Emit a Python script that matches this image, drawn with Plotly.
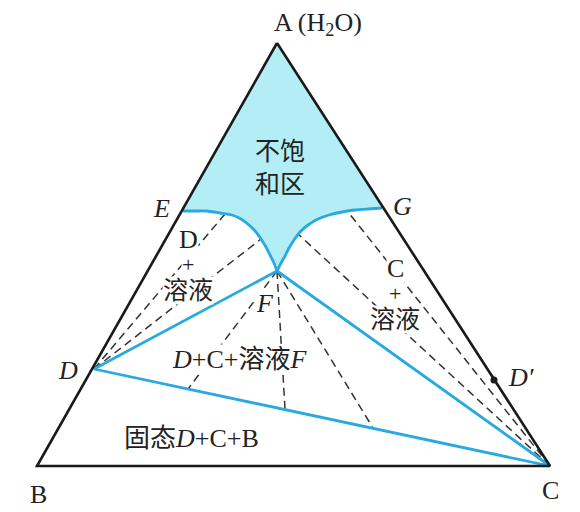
import plotly.graph_objects as go

# ---- data (figure coordinates of the phase diagram, y downward) ----
tri_x = [277, 37, 550]          # A, B, C
tri_y = [43, 466, 466]

pt_E = (183, 211)
pt_G = (382, 208)
pt_F = (277, 271)
pt_D = (94, 369)
pt_Dp = (494, 380)

curve_EF_x = [183, 195, 207, 220, 232, 241, 249, 256, 261, 266, 270, 274, 277]
curve_EF_y = [211, 211, 211, 213, 215, 219, 225, 232, 239, 247, 255, 263, 271]
curve_GF_x = [382, 368, 355, 342, 329, 318, 308, 300, 294, 289, 285, 281, 277]
curve_GF_y = [208, 209, 210, 212, 215, 219, 225, 232, 240, 248, 256, 263, 271]

# tie lines end points
tie_D_x_end = [225, 261]
tie_D_y_end = [214, 239]
tie_F_x_end = [188, 285, 373]
tie_F_y_end = [389, 409, 428]
tie_C_x_end = [348, 298]
tie_C_y_end = [212, 234]

BLUE = "#29a9e1"
CYAN = "#b3eef6"
FONT = "Liberation Serif, Noto Sans CJK SC"
FS = 26

fig = go.Figure()

# unsaturated region fill
fill_x = [tri_x[0]] + curve_GF_x + curve_EF_x[::-1] + [tri_x[0]]
fill_y = [tri_y[0]] + curve_GF_y + curve_EF_y[::-1] + [tri_y[0]]
fig.add_trace(go.Scatter(x=fill_x, y=fill_y, mode="lines", fill="toself",
                         fillcolor=CYAN, line=dict(width=0), hoverinfo="skip"))

# dashed tie lines
def dashed(x0, y0, xs, ys):
    for xe, ye in zip(xs, ys):
        fig.add_trace(go.Scatter(x=[x0, xe], y=[y0, ye], mode="lines",
                                 line=dict(color="#333333", width=1.5, dash="8px,5px"),
                                 hoverinfo="skip"))

dashed(pt_D[0], pt_D[1], tie_D_x_end, tie_D_y_end)
dashed(pt_F[0], pt_F[1], tie_F_x_end, tie_F_y_end)
dashed(tri_x[2], tri_y[2], tie_C_x_end, tie_C_y_end)

# blue lines
for cx, cy in [(curve_EF_x, curve_EF_y), (curve_GF_x, curve_GF_y)]:
    fig.add_trace(go.Scatter(x=cx, y=cy, mode="lines",
                             line=dict(color=BLUE, width=2.8, shape="spline", smoothing=0.5),
                             hoverinfo="skip"))
fig.add_trace(go.Scatter(x=[pt_F[0], pt_D[0], tri_x[2], pt_F[0]],
                         y=[pt_F[1], pt_D[1], tri_y[2], pt_F[1]], mode="lines",
                         line=dict(color=BLUE, width=2.8), hoverinfo="skip"))

# triangle outline
fig.add_trace(go.Scatter(x=tri_x + [tri_x[0]], y=tri_y + [tri_y[0]], mode="lines",
                         line=dict(color="#1a1a1a", width=2.6), hoverinfo="skip"))

# D' point
fig.add_trace(go.Scatter(x=[pt_Dp[0]], y=[pt_Dp[1]], mode="markers",
                         marker=dict(color="#1a1a1a", size=7), hoverinfo="skip"))

def label(x, y, text, size=FS, bg=None):
    fig.add_annotation(x=x, y=y, text=text, showarrow=False,
                       font=dict(family=FONT, size=size, color="#222"),
                       bgcolor=bg, borderpad=0, xanchor="center", yanchor="middle")

label(318, 24, "A (H<sub>2</sub>O)")
label(280, 168, "不饱<br>和区", 25)
label(161, 208, "<i>E</i>")
label(402, 206, "<i>G</i>")
label(188, 239, "D", 26, "white")
label(188, 264, "+", 22, "white")
label(188, 290, "溶液", 25, "white")
label(265, 303, "<i>F</i>", FS, "white")
label(395, 268, "C", 26, "white")
label(395, 293, "+", 22, "white")
label(395, 319, "溶液", 25, "white")
label(239, 359, "<i>D</i>+C+溶液<i>F</i>", FS, "white")
label(68, 370, "<i>D</i>")
label(521, 377, "<i>D′</i>")
label(191, 438, "固态<i>D</i>+C+B")
label(38, 494, "B")
label(550, 490, "C")

# page body has an 8px margin: the plot covers page pixels 8..580 x 8..512
fig.update_layout(width=572, height=504, margin=dict(l=0, r=0, t=0, b=0),
                  paper_bgcolor="white", plot_bgcolor="white", showlegend=False,
                  xaxis=dict(range=[8, 580], visible=False, fixedrange=True),
                  yaxis=dict(range=[512, 8], visible=False, fixedrange=True))

fig.write_html("out.html")
